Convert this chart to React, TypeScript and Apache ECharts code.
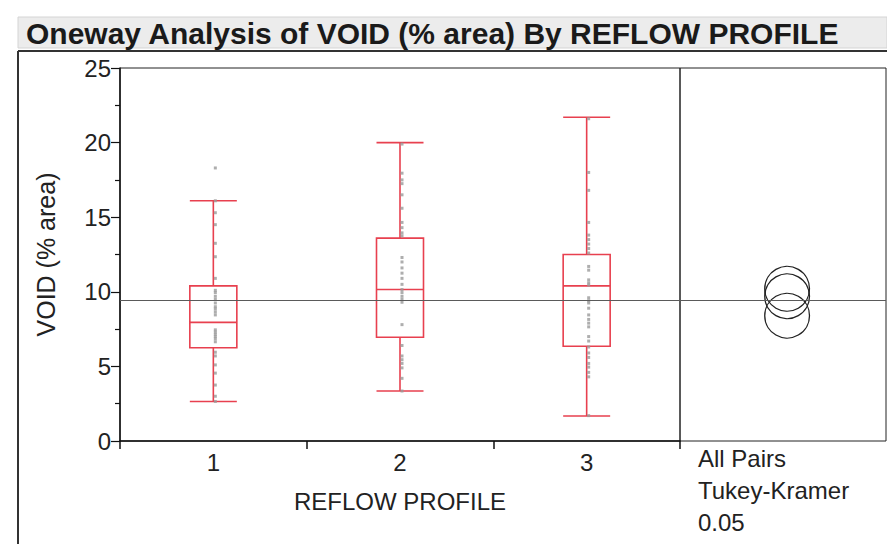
import React, { useEffect, useRef } from 'react';
import * as echarts from 'echarts';

const categories = ['1', '2', '3'];
const whiskerLow = [2.65, 3.35, 1.68];
const quartile1 = [6.25, 6.95, 6.35];
const medians = [7.95, 10.15, 10.4];
const quartile3 = [10.4, 13.6, 12.5];
const whiskerHigh = [16.1, 20.0, 21.7];

const profile1Points = [18.3, 16.1, 15.3, 14.5, 13.25, 12.35, 10.9, 10.1, 9.95, 9.7, 9.5, 9.25, 9.0, 8.85, 8.65, 8.45, 7.45, 7.3, 7.15, 7.0, 6.85, 6.65, 5.95, 5.7, 5.1, 4.55, 3.75, 3.0, 2.65];
const profile2Points = [19.9, 17.95, 17.5, 17.25, 16.5, 15.6, 14.65, 14.3, 13.95, 13.75, 12.3, 12.0, 11.6, 11.25, 10.9, 10.5, 10.15, 9.95, 9.7, 9.5, 9.3, 7.8, 6.4, 5.7, 5.45, 5.2, 4.9, 4.2, 3.35];
const profile3Points = [21.6, 18.0, 16.8, 14.65, 13.8, 13.5, 13.2, 12.9, 12.6, 11.7, 11.45, 10.8, 10.6, 10.45, 9.6, 9.4, 9.25, 8.9, 8.45, 8.15, 7.9, 7.65, 7.0, 6.7, 6.3, 5.9, 5.6, 5.2, 4.95, 4.6, 4.3, 1.7];

const groupMeans = [8.4, 10.2, 9.7];
const circleRadii = [1.5, 1.5, 1.5];
const grandMean = 9.45;

const yMin = 0;
const yMax = 25;
const yInterval = 5;

const titleText = 'Oneway Analysis of VOID (% area) By REFLOW PROFILE';
const comparisonLabels = ['All Pairs', 'Tukey-Kramer', '0.05'];

const FONT = '"Liberation Sans", Arial, sans-serif';
const RED = '#e8404f';

export default function App() {
  const ref = useRef<HTMLDivElement>(null);
  useEffect(() => {
    const chart = echarts.init(ref.current!, null, { renderer: 'svg' });
    const allPoints = [profile1Points, profile2Points, profile3Points];
    const scatterData: number[][] = [];
    allPoints.forEach((pts, i) => pts.forEach((v) => scatterData.push([i, v])));
    const boxData = categories.map((_, i) => [whiskerLow[i], quartile1[i], medians[i], quartile3[i], whiskerHigh[i]]);
    const meanLine = {
      silent: true,
      symbol: ['none', 'none'],
      label: { show: false },
      lineStyle: { color: '#5a5a5a', width: 1, type: 'solid' },
      data: [{ yAxis: grandMean }],
      animation: false,
    };
    const option: any = {
      animation: false,
      textStyle: { fontFamily: FONT },
      grid: [
        { left: 120, top: 68, width: 560, height: 373, show: true, borderColor: '#222', borderWidth: 1 },
        { left: 680, top: 68, width: 206, height: 373, show: true, borderColor: '#222', borderWidth: 1 },
      ],
      xAxis: [
        {
          type: 'category',
          gridIndex: 0,
          data: categories,
          boundaryGap: true,
          axisLine: { lineStyle: { color: '#111', width: 1.5 } },
          axisTick: { show: true, length: 8, lineStyle: { color: '#111', width: 1.5 } },
          axisLabel: { fontSize: 24, color: '#222', margin: 9, fontFamily: FONT },
          name: 'REFLOW PROFILE',
          nameLocation: 'middle',
          nameGap: 48,
          nameTextStyle: { fontSize: 24, color: '#222', fontFamily: FONT },
          splitLine: { show: false },
        },
        { type: 'value', gridIndex: 1, min: 0, max: 1, show: false },
      ],
      yAxis: [
        {
          type: 'value',
          gridIndex: 0,
          min: yMin,
          max: yMax,
          interval: yInterval,
          axisLine: { show: true, lineStyle: { color: '#111', width: 1.5 } },
          axisTick: { show: true, length: 9, lineStyle: { color: '#111', width: 1.2 } },
          minorTick: { show: true, splitNumber: 2, length: 5, lineStyle: { color: '#111', width: 1.2 } },
          axisLabel: { fontSize: 24, color: '#222', margin: 9, fontFamily: FONT },
          splitLine: { show: false },
          name: 'VOID (% area)',
          nameLocation: 'middle',
          nameRotate: 90,
          nameGap: 62,
          nameTextStyle: { fontSize: 25, color: '#222', fontFamily: FONT },
        },
        { type: 'value', gridIndex: 1, min: yMin, max: yMax, show: false },
      ],
      graphic: [
        { type: 'rect', shape: { x: 18, y: 17, width: 869, height: 31 }, style: { fill: '#ececec', stroke: '#d4d4d4', lineWidth: 1 } },
        { type: 'text', x: 26, y: 33, style: { text: titleText, fill: '#1a1a1a', font: `bold 30px ${FONT}`, verticalAlign: 'middle' } },
        { type: 'line', shape: { x1: 18, y1: 51, x2: 887, y2: 51 }, style: { stroke: '#333', lineWidth: 2 } },
        { type: 'line', shape: { x1: 18, y1: 51, x2: 18, y2: 544 }, style: { stroke: '#333', lineWidth: 2 } },
        ...comparisonLabels.map((t, i) => ({
          type: 'text',
          x: 698,
          y: 458 + i * 32,
          style: { text: t, fill: '#222', font: `24px ${FONT}`, verticalAlign: 'middle' },
        })),
      ],
      series: [
        {
          type: 'boxplot',
          xAxisIndex: 0,
          yAxisIndex: 0,
          data: boxData,
          boxWidth: [47, 47],
          itemStyle: { color: 'rgba(0,0,0,0)', borderColor: RED, borderWidth: 1.6 },
          emphasis: { disabled: true },
          z: 2,
        },
        {
          type: 'scatter',
          xAxisIndex: 0,
          yAxisIndex: 0,
          data: scatterData,
          symbol: 'rect',
          symbolSize: [3, 3],
          symbolOffset: [2, 0],
          itemStyle: { color: '#9a9a9a' },
          emphasis: { disabled: true },
          markLine: meanLine,
          z: 3,
        },
        {
          type: 'custom',
          xAxisIndex: 1,
          yAxisIndex: 1,
          data: groupMeans.map((m, i) => [0.52, m, circleRadii[i]]),
          encode: { x: 0, y: 1 },
          renderItem: (params: any, api: any) => {
            const c = api.coord([api.value(0), api.value(1)]);
            const r = api.size([0, api.value(2)])[1];
            return {
              type: 'circle',
              shape: { cx: c[0], cy: c[1], r },
              style: { fill: 'none', stroke: '#222', lineWidth: 1.3 },
            };
          },
          markLine: meanLine,
          z: 3,
        },
      ],
    };
    chart.setOption(option);
    return () => chart.dispose();
  }, []);
  return <div ref={ref} style={{ position: 'absolute', left: 0, top: 0, width: 887, height: 544 }} />;
}
